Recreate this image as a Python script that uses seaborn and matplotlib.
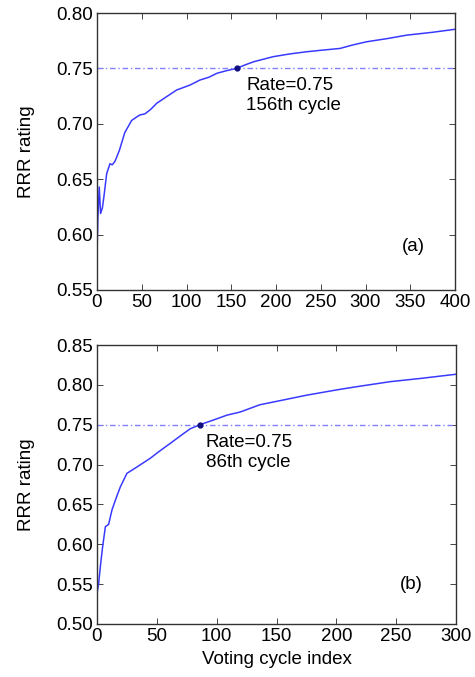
import matplotlib
matplotlib.use("Agg")
import matplotlib.pyplot as plt
import seaborn as sns
import pandas as pd

# Panel (a)
cycles_a = [0, 1, 2.5, 4, 6, 8, 10.8, 14.5, 17, 20, 25, 31, 38.7, 44, 48, 53.6, 60, 66.7, 75, 89, 104, 115, 125, 134, 145, 156,
            165, 175, 197, 215, 234, 252, 271.5, 285, 301, 325, 346, 375, 400]
rating_a = [0.583, 0.615, 0.643, 0.619, 0.624, 0.636, 0.655, 0.664, 0.663, 0.666, 0.676, 0.692, 0.703, 0.706, 0.708, 0.709, 0.713, 0.7185, 0.723, 0.7305, 0.735, 0.7395, 0.742, 0.7456, 0.748, 0.75,
            0.753, 0.756, 0.7606, 0.763, 0.765, 0.7665, 0.768, 0.771, 0.774, 0.777, 0.780, 0.7826, 0.7853]
# Panel (b)
cycles_b = [0, 1.4, 2.8, 4.7, 7, 9.7, 12.5, 16, 19.5, 25, 33.4, 44.6, 51.5, 61.3, 72.4, 78, 86, 97.5, 108.6, 119.8,
            136, 155.6, 175, 200, 217, 245, 270, 300]
rating_b = [0.5385, 0.551, 0.572, 0.597, 0.622, 0.625, 0.643, 0.658, 0.672, 0.689, 0.697, 0.708, 0.716, 0.7267, 0.739, 0.745, 0.75, 0.756, 0.762, 0.766,
            0.775, 0.781, 0.787, 0.7936, 0.7977, 0.804, 0.808, 0.8133]

threshold = 0.75
cross_a = 156
cross_b = 86
labels = ["(a)", "(b)"]
yticks_a = [0.55, 0.60, 0.65, 0.70, 0.75, 0.80]
yticks_b = [0.50, 0.55, 0.60, 0.65, 0.70, 0.75, 0.80, 0.85]
xticks_a = [0, 50, 100, 150, 200, 250, 300, 350, 400]
xticks_b = [0, 50, 100, 150, 200, 250, 300]

sns.set_theme(style="ticks")
plt.rcParams['font.family'] = ['Liberation Sans', 'DejaVu Sans']
plt.rcParams['xtick.direction'] = 'in'
plt.rcParams['ytick.direction'] = 'in'
plt.rcParams['text.color'] = 'black'
plt.rcParams['axes.labelcolor'] = 'black'
plt.rcParams['xtick.labelcolor'] = 'black'
plt.rcParams['ytick.labelcolor'] = 'black'

fig = plt.figure(figsize=(4.75, 6.77), dpi=100)
W, H = 475, 677
axa = fig.add_axes([97 / W, 1 - 290 / H, (455 - 97) / W, (290 - 13) / H])
axb = fig.add_axes([97 / W, 1 - 624 / H, (456 - 97) / W, (624 - 345) / H])

line_color = '#3a3aff'
fs = 13.5

def panel(ax, xs, ys, cross, xmax, ylim, yticks, xticks, lab, txt_xy, lab_xy):
    df = pd.DataFrame({"cycle": xs, "rating": ys})
    sns.lineplot(data=df, x="cycle", y="rating", ax=ax, color=line_color, lw=1.1)
    ax.axhline(threshold, color='#8080ff', lw=1.0, ls=(0, (4, 2, 1, 2)))
    ax.plot([cross], [threshold], 'o', color='#101080', ms=3.5)
    ax.set_xlim(0, xmax)
    ax.set_ylim(*ylim)
    ax.set_yticks(yticks)
    ax.set_yticklabels([f"{v:.2f}" for v in yticks])
    ax.set_xticks(xticks)
    ax.set_xticklabels([str(v) for v in xticks])
    ax.tick_params(top=True, right=True, labelsize=fs, length=4, width=0.7, color='#444444', pad=3)
    for s in ax.spines.values():
        s.set_color('#333333')
        s.set_linewidth(1.0)
    ax.set_ylabel("RRR rating", fontsize=fs, labelpad=15)
    ax.set_xlabel("")
    ax.text(txt_xy[0], txt_xy[1], f"Rate=0.75\n{cross}th cycle", fontsize=fs, va='top', ha='left', linespacing=1.2)
    ax.text(lab_xy[0], lab_xy[1], lab, fontsize=fs, ha='center', va='center')

panel(axa, cycles_a, rating_a, cross_a, 400, (0.55, 0.80), yticks_a, xticks_a, labels[0], (167, 0.742), (353, 0.589))
panel(axb, cycles_b, rating_b, cross_b, 300, (0.50, 0.85), yticks_b, xticks_b, labels[1], (91, 0.738), (263, 0.549))
axb.set_xlabel("Voting cycle index", fontsize=fs, labelpad=4)

fig.savefig("out.png", dpi=100)
